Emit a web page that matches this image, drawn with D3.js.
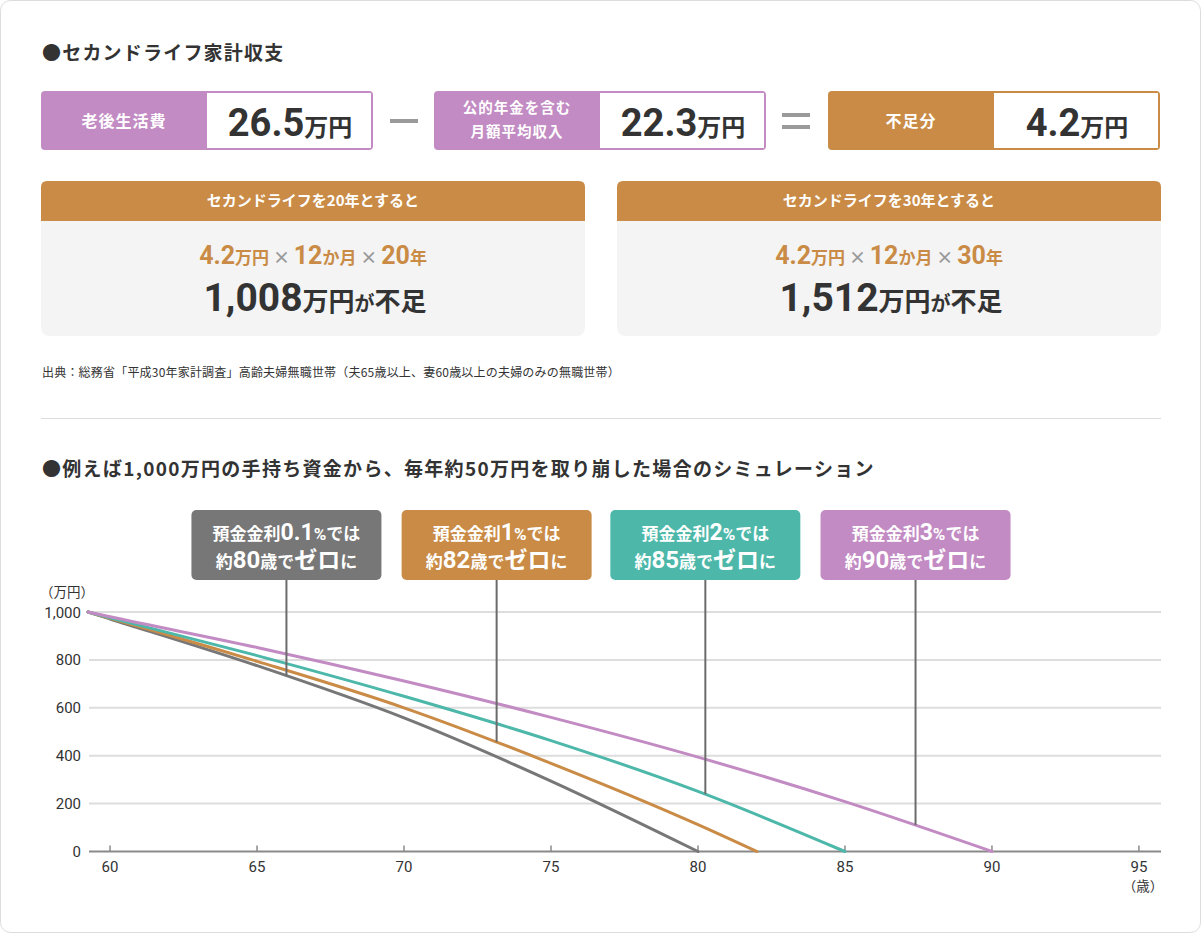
<!DOCTYPE html>
<html lang="ja">
<head>
<meta charset="utf-8">
<script src="https://cdn.jsdelivr.net/npm/d3@7"></script>
<style>
  html, body { margin: 0; padding: 0; background: #ffffff; }
  svg { display: block; }
</style>
</head>
<body>
<div id="chart"></div>
<script>
// ---------- DATA ----------
const summaryLabels = [["老後生活費"], ["公的年金を含む", "月額平均収入"], ["不足分"]];
const summaryValues = ["26.5", "22.3", "4.2"];
const summaryUnit = "万円";

const shortfallMonthly = "4.2";
const monthsPerYear = "12";
const cardYears = ["20", "30"];
const cardTotals = ["1,008", "1,512"];

const sourceText = "出典：総務省「平成30年家計調査」高齢夫婦無職世帯（夫65歳以上、妻60歳以上の夫婦のみの無職世帯）";
const title1 = "●セカンドライフ家計収支";
const title2 = "●例えば1,000万円の手持ち資金から、毎年約50万円を取り崩した場合のシミュレーション";

// ages (x) and balances (万円) for each interest rate
const agePoints = [59.25, 60, 65, 70, 75, 80, 82, 85, 90];
const balance01 = [1000, 971, 776, 558, 294, 0, null, null, null];
const balance1  = [1000, 974, 794, 600, 368, 112, 0, null, null];
const balance2  = [1000, 976, 818, 648, 463, 251, null, 0, null];
const balance3  = [1000, 980, 852, 712, 560, 394, null, 208, 0];

const rates = ["0.1", "1", "2", "3"];
const zeroAges = ["80", "82", "85", "90"];
const calloutAges = [66, 73.15, 80.25, 87.4];

const yTicks = [0, 200, 400, 600, 800, 1000];
const xTicks = [60, 65, 70, 75, 80, 85, 90, 95];

// ---------- STYLE ----------
const W = 1202, H = 935;
const JP = "'Noto Sans CJK JP', sans-serif";
const NUM = "Roboto, 'Noto Sans CJK JP', sans-serif";
const PURPLE = "#c28bc3", ORANGE = "#c98b45", TEAL = "#4db8aa", GRAY = "#777777";
const seriesColors = [GRAY, ORANGE, TEAL, PURPLE];
const DARK = "#333333";

const svg = d3.select("#chart").append("svg").attr("width", W).attr("height", H);

svg.append("rect").attr("x", 0.5).attr("y", 0.5).attr("width", W - 2).attr("height", H - 3)
  .attr("rx", 10).attr("fill", "#fff").attr("stroke", "#dcdcdc");

function rich(sel, x, y, parts, opts = {}) {
  const t = sel.append("text").attr("x", x).attr("y", y)
    .attr("text-anchor", opts.anchor || "middle")
    .attr("fill", opts.fill || DARK)
    .attr("font-weight", opts.weight || 700);
  parts.forEach(p => {
    t.append("tspan").text(p[0]).attr("font-size", p[1])
      .attr("fill", p[2] || null)
      .attr("font-family", /^[0-9.,%]+$/.test(p[0]) ? NUM : JP);
  });
  return t;
}

// ---------- TITLE 1 ----------
svg.append("text").attr("x", 42).attr("y", 60).attr("font-family", JP).attr("font-weight", 700)
  .attr("font-size", 19).attr("letter-spacing", 1.2).attr("fill", DARK).text(title1);

// ---------- SUMMARY BOXES ----------
const boxX = [41, 434, 828], boxY = 91, boxW = 332, boxH = 59, labW = 166;
const boxColors = [PURPLE, PURPLE, ORANGE];
summaryValues.forEach((v, i) => {
  const g = svg.append("g");
  const x0 = boxX[i];
  g.append("rect").attr("x", x0).attr("y", boxY).attr("width", boxW).attr("height", boxH)
    .attr("rx", 4).attr("fill", boxColors[i]);
  g.append("rect").attr("x", x0 + labW).attr("y", boxY + 2).attr("width", boxW - labW - 2)
    .attr("height", boxH - 4).attr("fill", "#fff");
  const lines = summaryLabels[i];
  if (lines.length === 1) {
    g.append("text").attr("x", x0 + labW / 2).attr("y", 127).attr("text-anchor", "middle")
      .attr("font-family", JP).attr("font-weight", 700).attr("font-size", 16)
      .attr("letter-spacing", 1).attr("fill", "#fff").text(lines[0]);
  } else {
    lines.forEach((l, j) => {
      g.append("text").attr("x", x0 + labW / 2).attr("y", 113 + j * 24).attr("text-anchor", "middle")
        .attr("font-family", JP).attr("font-weight", 700).attr("font-size", 14.5)
        .attr("letter-spacing", 1).attr("fill", "#fff").text(l);
    });
  }
  rich(g, x0 + labW + (boxW - labW) / 2, 136, [[v, 38], [summaryUnit, 24]]);
});
// minus and equals
svg.append("rect").attr("x", 390).attr("y", 119).attr("width", 28).attr("height", 4).attr("fill", "#9a9a9a");
svg.append("rect").attr("x", 782).attr("y", 113).attr("width", 28).attr("height", 4).attr("fill", "#9a9a9a");
svg.append("rect").attr("x", 782).attr("y", 125).attr("width", 28).attr("height", 4).attr("fill", "#9a9a9a");

// ---------- CARDS ----------
const cardX = [41, 617], cardY = 181, cardW = 544, cardH = 155, headH = 40;
cardYears.forEach((yrs, i) => {
  const g = svg.append("g");
  const x0 = cardX[i], cx = x0 + cardW / 2;
  g.append("rect").attr("x", x0).attr("y", cardY).attr("width", cardW).attr("height", cardH)
    .attr("rx", 8).attr("fill", "#f4f4f4");
  g.append("path").attr("fill", ORANGE)
    .attr("d", `M${x0},${cardY + headH} V${cardY + 6} Q${x0},${cardY} ${x0 + 6},${cardY} H${x0 + cardW - 6} Q${x0 + cardW},${cardY} ${x0 + cardW},${cardY + 6} V${cardY + headH} Z`);
  g.append("text").attr("x", cx).attr("y", 206).attr("text-anchor", "middle")
    .attr("font-family", JP).attr("font-weight", 700).attr("font-size", 15).attr("fill", "#fff")
    .text(`セカンドライフを${yrs}年とすると`);
  rich(g, cx, 264, [
    [shortfallMonthly, 25], ["万円", 17], [" × ", 17, "#9a9a9a"],
    [monthsPerYear, 25], ["か月", 17], [" × ", 17, "#9a9a9a"],
    [yrs, 25], ["年", 17]
  ], { fill: ORANGE });
  rich(g, cx + 2, 311, [[cardTotals[i], 39], ["万円", 26], ["が", 20], ["不足", 26]]);
});

// ---------- SOURCE / DIVIDER / TITLE 2 ----------
svg.append("text").attr("x", 42).attr("y", 377).attr("font-family", JP).attr("font-size", 12)
  .attr("letter-spacing", 0.2).attr("fill", DARK).text(sourceText);
svg.append("line").attr("x1", 41).attr("x2", 1161).attr("y1", 418.5).attr("y2", 418.5)
  .attr("stroke", "#dddddd").attr("stroke-width", 1);
svg.append("text").attr("x", 42).attr("y", 476).attr("font-family", JP).attr("font-weight", 700)
  .attr("font-size", 19).attr("letter-spacing", 1.3).attr("fill", DARK).text(title2);

// ---------- CHART ----------
const x = d3.scaleLinear().domain([59.25, 95.75]).range([88, 1161]);
const y = d3.scaleLinear().domain([0, 1000]).range([851.5, 612]);

const grid = svg.append("g");
yTicks.filter(t => t > 0).forEach(t => {
  grid.append("line").attr("x1", 89).attr("x2", 1161).attr("y1", y(t)).attr("y2", y(t))
    .attr("stroke", "#dddddd").attr("stroke-width", 2);
});
yTicks.forEach(t => {
  svg.append("text").attr("x", 81).attr("y", y(t) + 5.5).attr("text-anchor", "end")
    .attr("font-family", NUM).attr("font-size", 15).attr("fill", DARK).text(d3.format(",")(t));
});
svg.append("text").attr("x", 67).attr("y", 597).attr("text-anchor", "middle")
  .attr("font-family", JP).attr("font-size", 13.5).attr("fill", DARK).text("（万円）");

// x axis
svg.append("line").attr("x1", 89).attr("x2", 1161).attr("y1", y(0)).attr("y2", y(0))
  .attr("stroke", "#8a8a8a").attr("stroke-width", 2);
xTicks.forEach(t => {
  svg.append("line").attr("x1", x(t)).attr("x2", x(t)).attr("y1", y(0) - 6).attr("y2", y(0))
    .attr("stroke", "#8a8a8a").attr("stroke-width", 1.5);
  svg.append("text").attr("x", x(t)).attr("y", 872).attr("text-anchor", "middle")
    .attr("font-family", NUM).attr("font-size", 15).attr("fill", DARK).text(t);
});
svg.append("text").attr("x", 1143).attr("y", 891).attr("text-anchor", "middle")
  .attr("font-family", JP).attr("font-size", 13.5).attr("fill", DARK).text("（歳）");

// series lines
const allSeries = [balance01, balance1, balance2, balance3];
const lineGen = d3.line().x(d => x(d[0])).y(d => y(d[1])).curve(d3.curveMonotoneX);
const paths = allSeries.map((vals, i) => {
  const pts = agePoints.map((a, k) => [a, vals[k]]).filter(d => d[1] != null);
  return svg.append("path").attr("d", lineGen(pts)).attr("fill", "none")
    .attr("stroke", seriesColors[i]).attr("stroke-width", 3).attr("stroke-linecap", "round").node();
});

function yOnPath(p, px) {
  const L = p.getTotalLength();
  let lo = 0, hi = L;
  for (let k = 0; k < 40; k++) {
    const mid = (lo + hi) / 2;
    if (p.getPointAtLength(mid).x < px) lo = mid; else hi = mid;
  }
  return p.getPointAtLength((lo + hi) / 2).y;
}

// callouts
const boxTop = 510, cBoxW = 190, cBoxH = 70;
rates.forEach((r, i) => {
  const cx = x(calloutAges[i]);
  const ly = yOnPath(paths[i], cx);
  svg.append("line").attr("x1", cx).attr("x2", cx).attr("y1", boxTop + cBoxH).attr("y2", ly)
    .attr("stroke", "#6b6b6b").attr("stroke-width", 2);
  svg.append("rect").attr("x", cx - cBoxW / 2).attr("y", boxTop).attr("width", cBoxW).attr("height", cBoxH)
    .attr("rx", 5).attr("fill", seriesColors[i]);
  rich(svg, cx, 540, [["預金金利", 17], [r, 23], ["%", 17], ["では", 17]], { fill: "#fff" });
  rich(svg, cx, 568, [["約", 17], [zeroAges[i], 24], ["歳で", 17], ["ゼロ", 23], ["に", 17]], { fill: "#fff" });
});
</script>
</body>
</html>
